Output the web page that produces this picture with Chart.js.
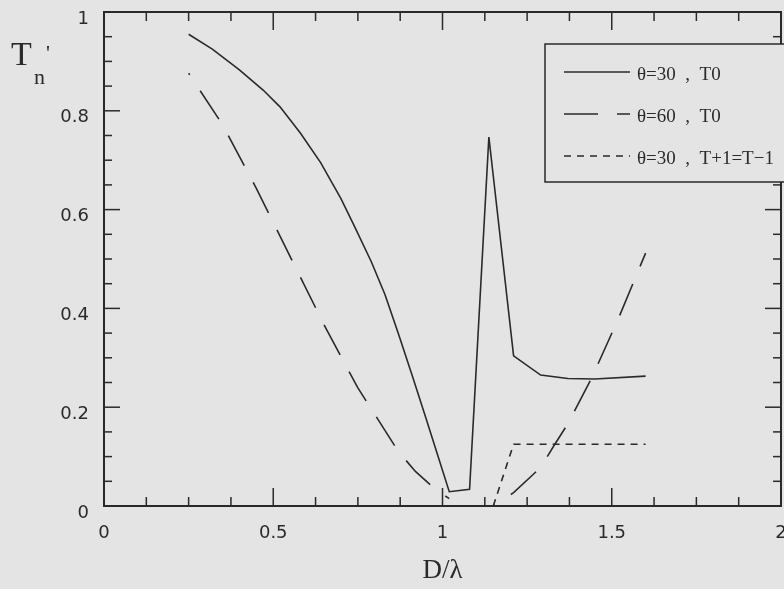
<!DOCTYPE html>
<html>
<head>
<meta charset="utf-8">
<script src="https://cdn.jsdelivr.net/npm/chart.js@4/dist/chart.umd.min.js"></script>
<style>
  html, body { margin: 0; padding: 0; background: #e4e4e4; }
  #wrap { width: 784px; height: 589px; position: relative; }
</style>
</head>
<body>
<div id="wrap"><canvas id="tChart"></canvas></div>
<script>
// T0 at theta = 30
var d30x = [0.25, 0.32, 0.40, 0.47, 0.52, 0.58, 0.64, 0.70, 0.74, 0.79, 0.83, 0.87, 0.91, 0.95, 1.02, 1.08, 1.137, 1.21, 1.29, 1.37, 1.45, 1.6];
var d30y = [0.955, 0.925, 0.883, 0.842, 0.808, 0.755, 0.695, 0.622, 0.566, 0.494, 0.428, 0.348, 0.265, 0.18, 0.029, 0.034, 0.747, 0.304, 0.265, 0.258, 0.257, 0.263];
// T0 at theta = 60 (null = break in the curve)
var d60x = [0.25, 0.35, 0.45, 0.55, 0.65, 0.75, 0.87, 0.92, 0.98, 1.02, 1.08, 1.15, 1.21, 1.29, 1.33, 1.37, 1.44, 1.52, 1.6];
var d60y = [0.876, 0.772, 0.643, 0.505, 0.367, 0.239, 0.11, 0.07, 0.033, 0.015, null, 0, 0.027, 0.078, 0.123, 0.166, 0.258, 0.38, 0.512];
// T+1 = T-1 at theta = 30
var dpmx = [1.15, 1.21, 1.6];
var dpmy = [0, 0.125, 0.125];

var legendLabels = ['\u03B8=30  ,  T0', '\u03B8=60  ,  T0', '\u03B8=30  ,  T+1=T\u22121'];

var ink = '#2a2a2a';
var bg = '#e4e4e4';

function pts(xs, ys) {
  return xs.map(function (x, i) { return { x: x, y: ys[i] }; });
}

var dash60 = [34, 19];
var dashPm = [7, 6];

var data = {
  datasets: [
    { label: legendLabels[0], data: pts(d30x, d30y), borderColor: ink, borderWidth: 1.6, pointRadius: 0, tension: 0 },
    { label: legendLabels[1], data: pts(d60x, d60y), borderColor: ink, borderWidth: 1.6, pointRadius: 0, tension: 0,
      borderDash: dash60, borderDashOffset: 32, spanGaps: false },
    { label: legendLabels[2], data: pts(dpmx, dpmy), borderColor: ink, borderWidth: 1.6, pointRadius: 0, tension: 0,
      borderDash: dashPm }
  ]
};

function line(ctx, x1, y1, x2, y2) {
  ctx.beginPath(); ctx.moveTo(x1, y1); ctx.lineTo(x2, y2); ctx.stroke();
}

// frame, inner ticks, y title and legend box
var decor = {
  id: 'decor',
  afterDraw: function (chart) {
    var ctx = chart.ctx, a = chart.chartArea;
    var x = chart.scales.x, y = chart.scales.y;
    ctx.save();
    ctx.strokeStyle = ink;
    ctx.lineWidth = 2;
    ctx.strokeRect(a.left, a.top, a.right - a.left, a.bottom - a.top);
    ctx.lineWidth = 1.5;
    for (var i = 0; i <= 16; i++) {
      var px = x.getPixelForValue(i * 0.125), len = (i % 4) ? 9 : 18;
      line(ctx, px, a.bottom, px, a.bottom - len);
      line(ctx, px, a.top, px, a.top + len);
    }
    for (var j = 0; j <= 20; j++) {
      var py = y.getPixelForValue(j * 0.05), l2 = (j % 4) ? 8 : 16;
      line(ctx, a.left, py, a.left + l2, py);
      line(ctx, a.right, py, a.right - l2, py);
    }

    // y title T_n '
    ctx.fillStyle = ink;
    ctx.textBaseline = 'alphabetic';
    ctx.textAlign = 'left';
    ctx.font = '34px "Liberation Serif", serif';
    ctx.fillText('T', 11, 65);
    ctx.font = '22px "Liberation Serif", serif';
    ctx.fillText('n', 34, 84);
    ctx.fillText('\'', 46, 60);

    // legend
    var bx = 545, by = 44, bw = 260, bh = 138;
    ctx.fillStyle = bg;
    ctx.fillRect(bx, by, bw, bh);
    ctx.lineWidth = 1.5;
    ctx.strokeRect(bx, by, bw, bh);
    var rows = [72, 114, 156];
    var dashes = [[], dash60, dashPm];
    ctx.font = '19px "Liberation Serif", serif';
    ctx.fillStyle = ink;
    for (var k = 0; k < 3; k++) {
      ctx.setLineDash(dashes[k]);
      ctx.lineWidth = 1.6;
      line(ctx, 564, rows[k], 630, rows[k]);
      ctx.setLineDash([]);
      ctx.fillText(chart.data.datasets[k].label, 637, rows[k] + 8);
    }
    ctx.restore();
  }
};

var tickFont = { family: '"DejaVu Sans", sans-serif', size: 18 };
function fmt(v) { return String(Math.round(v * 10) / 10); }

new Chart(document.getElementById('tChart'), {
  type: 'line',
  data: data,
  options: {
    responsive: true,
    maintainAspectRatio: false,
    animation: false,
    layout: { padding: { top: 12, right: 3, left: 0, bottom: 0 } },
    plugins: { legend: { display: false }, tooltip: { enabled: false } },
    scales: {
      x: {
        type: 'linear', min: 0, max: 2,
        grid: { display: false, drawTicks: false },
        border: { display: false },
        ticks: { stepSize: 0.5, padding: 17, color: ink, font: tickFont, maxRotation: 0, callback: fmt },
        title: { display: true, text: 'D/\u03BB', color: ink,
                 font: { family: '"Liberation Serif", serif', size: 27 }, padding: { top: 0, bottom: 2 } },
        afterFit: function (s) { s.height = 83; s.paddingLeft = 0; s.paddingRight = 0; }
      },
      y: {
        min: 0, max: 1,
        grid: { display: false, drawTicks: false },
        border: { display: false },
        ticks: { stepSize: 0.2, padding: 15, labelOffset: 7, color: ink, font: tickFont, callback: fmt },
        afterFit: function (s) { s.width = 104; s.paddingTop = 0; s.paddingBottom = 0; }
      }
    }
  },
  plugins: [decor]
});
</script>
</body>
</html>
